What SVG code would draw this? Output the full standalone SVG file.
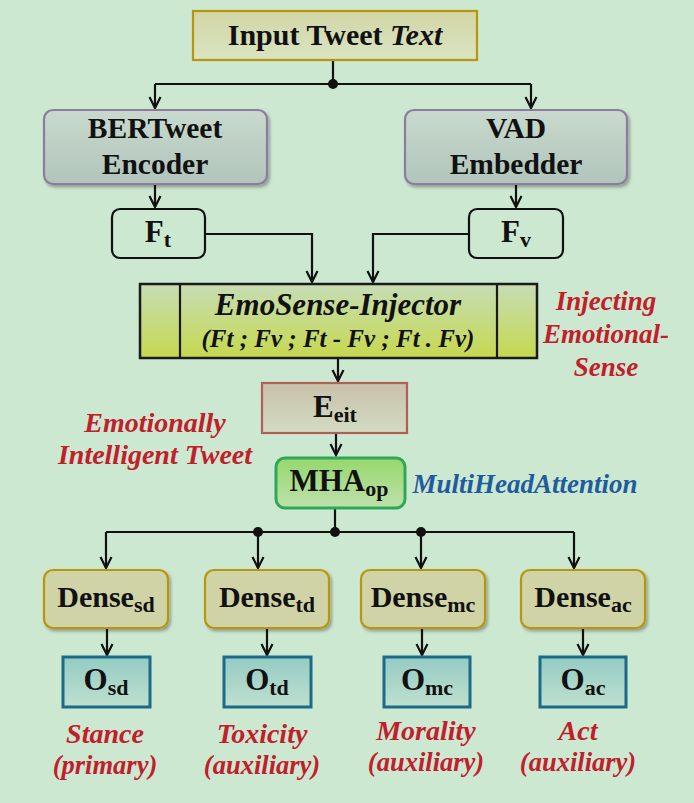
<svg xmlns="http://www.w3.org/2000/svg" width="694" height="803" viewBox="0 0 694 803">
<defs>
<style>
text{font-family:"Liberation Serif","Times New Roman",serif;font-weight:bold;fill:#111;text-anchor:middle}
.it{font-style:italic}
.red{fill:#c0202c;font-style:italic}
.blue{fill:#1f5c9e;font-style:italic}
.conn{stroke:#111;stroke-width:2.2;fill:none}
</style>
<linearGradient id="gIn" x1="0" y1="0" x2="0" y2="1"><stop offset="0" stop-color="#d2d6a6"/><stop offset="1" stop-color="#d9e4c2"/></linearGradient>
<linearGradient id="gEnc" x1="0" y1="0" x2="0" y2="1"><stop offset="0" stop-color="#c9d9cd"/><stop offset="1" stop-color="#b1c5bb"/></linearGradient>
<linearGradient id="gEmo" x1="0" y1="0" x2="0" y2="1"><stop offset="0" stop-color="#c6ddb6"/><stop offset="1" stop-color="#c6d84e"/></linearGradient>
<linearGradient id="gE" x1="0" y1="0" x2="0" y2="1"><stop offset="0" stop-color="#c8c0aa"/><stop offset="1" stop-color="#d3dcc3"/></linearGradient>
<linearGradient id="gMHA" x1="0" y1="0" x2="0" y2="1"><stop offset="0" stop-color="#96d86c"/><stop offset="1" stop-color="#bfe0ac"/></linearGradient>
<linearGradient id="gO" x1="0" y1="0" x2="0" y2="1"><stop offset="0" stop-color="#94cbc3"/><stop offset="1" stop-color="#bfe0cf"/></linearGradient>
<filter id="sh" x="-10%" y="-10%" width="130%" height="140%"><feDropShadow dx="2" dy="2.5" stdDeviation="1.5" flood-color="#000" flood-opacity="0.3"/></filter>
<marker id="arr" viewBox="-12 -7 14 14" refX="0" refY="0" markerWidth="14" markerHeight="14" orient="auto" markerUnits="userSpaceOnUse">
<path d="M-11,-5.5 L0,0 L-11,5.5" fill="none" stroke="#111" stroke-width="2.2" stroke-linejoin="miter"/>
</marker>
</defs>
<rect x="0" y="0" width="694" height="803" fill="#cde8d0"/>

<g id="connectors">
<path class="conn" d="M333,60 V84"/>
<path class="conn" d="M155,84 H531"/>
<path class="conn" d="M155,84 V108" marker-end="url(#arr)"/>
<path class="conn" d="M531,84 V108" marker-end="url(#arr)"/>
<circle cx="333" cy="84" r="5" fill="#111"/>
<path class="conn" d="M155,185 V207" marker-end="url(#arr)"/>
<path class="conn" d="M516,185 V207" marker-end="url(#arr)"/>
<path class="conn" d="M205,234 H312 V282" marker-end="url(#arr)"/>
<path class="conn" d="M469,234 H373 V282" marker-end="url(#arr)"/>
<path class="conn" d="M338,359 V381" marker-end="url(#arr)"/>
<path class="conn" d="M336,433 V455" marker-end="url(#arr)"/>
<path class="conn" d="M335,508 V532"/>
<path class="conn" d="M106,532 H574"/>
<circle cx="258" cy="532" r="5" fill="#111"/>
<circle cx="335" cy="532" r="5" fill="#111"/>
<circle cx="421" cy="532" r="5" fill="#111"/>
<path class="conn" d="M106,532 V568" marker-end="url(#arr)"/>
<path class="conn" d="M258,532 V568" marker-end="url(#arr)"/>
<path class="conn" d="M421,532 V568" marker-end="url(#arr)"/>
<path class="conn" d="M574,532 V568" marker-end="url(#arr)"/>
<path class="conn" d="M107,628 V655" marker-end="url(#arr)"/>
<path class="conn" d="M267,628 V655" marker-end="url(#arr)"/>
<path class="conn" d="M422,628 V655" marker-end="url(#arr)"/>
<path class="conn" d="M583,628 V655" marker-end="url(#arr)"/>
</g>

<g id="input">
<rect x="193" y="11" width="284" height="49" fill="url(#gIn)" stroke="#b8960c" stroke-width="2.2"/>
<text x="335" y="45" font-size="30">Input Tweet <tspan class="it">Text</tspan></text>
</g>

<g id="bertweet">
<rect x="44" y="110" width="223" height="74" rx="9" fill="url(#gEnc)" stroke="#8e7ca0" stroke-width="2.2" filter="url(#sh)"/>
<text x="155" y="138" font-size="29.5">BERTweet</text>
<text x="155" y="174" font-size="29.5">Encoder</text>
</g>

<g id="vad">
<rect x="405" y="110" width="222" height="74" rx="9" fill="url(#gEnc)" stroke="#8e7ca0" stroke-width="2.2" filter="url(#sh)"/>
<text x="516" y="138" font-size="29.5">VAD</text>
<text x="516" y="174" font-size="29.5">Embedder</text>
</g>

<g id="ft">
<rect x="112" y="209" width="93" height="49" rx="8" fill="none" stroke="#111" stroke-width="2.2"/>
<text x="158" y="242" font-size="31">F<tspan font-size="22" dy="5">t</tspan></text>
</g>

<g id="fv">
<rect x="469" y="209" width="94" height="49" rx="8" fill="none" stroke="#111" stroke-width="2.2"/>
<text x="516" y="242" font-size="31">F<tspan font-size="22" dy="5">v</tspan></text>
</g>

<g id="emosense">
<rect x="140" y="284" width="397" height="74" fill="url(#gEmo)" stroke="#1a1a1a" stroke-width="2.5"/>
<path d="M180,284 V358 M497,284 V358" stroke="#1a1a1a" stroke-width="2.2"/>
<text class="it" x="338" y="315" font-size="31">EmoSense-Injector</text>
<text class="it" x="338" y="347" font-size="25">(Ft ; Fv ; Ft - Fv ; Ft . Fv)</text>
</g>

<g id="injecting-label">
<text class="red" x="606" y="310" font-size="27">Injecting</text>
<text class="red" x="606" y="343" font-size="27">Emotional-</text>
<text class="red" x="606" y="376" font-size="27">Sense</text>
</g>

<g id="eeit">
<rect x="262" y="383" width="145" height="50" fill="url(#gE)" stroke="#b06058" stroke-width="2.2"/>
<text x="335" y="417" font-size="31">E<tspan font-size="22" dy="5">eit</tspan></text>
</g>

<g id="eit-label">
<text class="red" x="155" y="432" font-size="28">Emotionally</text>
<text class="red" x="155" y="464" font-size="28">Intelligent Tweet</text>
</g>

<g id="mha">
<rect x="276" y="458" width="129" height="50" rx="9" fill="url(#gMHA)" stroke="#2ea858" stroke-width="3"/>
<text x="339" y="491" font-size="31">MHA<tspan font-size="22" dy="5">op</tspan></text>
</g>

<g id="mha-label">
<text class="blue" x="525" y="493" font-size="27">MultiHeadAttention</text>
</g>

<g id="dense-sd">
<rect x="44" y="570" width="124" height="58" rx="9" fill="#cfd3a6" stroke="#b8960c" stroke-width="2.2" filter="url(#sh)"/>
<text x="106" y="607" font-size="30">Dense<tspan font-size="22" dy="5">sd</tspan></text>
</g>
<g id="dense-td">
<rect x="205" y="570" width="124" height="58" rx="9" fill="#cfd3a6" stroke="#b8960c" stroke-width="2.2" filter="url(#sh)"/>
<text x="267" y="607" font-size="30">Dense<tspan font-size="22" dy="5">td</tspan></text>
</g>
<g id="dense-mc">
<rect x="361" y="570" width="124" height="58" rx="9" fill="#cfd3a6" stroke="#b8960c" stroke-width="2.2" filter="url(#sh)"/>
<text x="423" y="607" font-size="30">Dense<tspan font-size="22" dy="5">mc</tspan></text>
</g>
<g id="dense-ac">
<rect x="521" y="570" width="124" height="58" rx="9" fill="#cfd3a6" stroke="#b8960c" stroke-width="2.2" filter="url(#sh)"/>
<text x="583" y="607" font-size="30">Dense<tspan font-size="22" dy="5">ac</tspan></text>
</g>

<g id="o-sd">
<rect x="63" y="657" width="87" height="50" fill="url(#gO)" stroke="#1a6a88" stroke-width="3"/>
<text x="106" y="690" font-size="31">O<tspan font-size="22" dy="5">sd</tspan></text>
</g>
<g id="o-td">
<rect x="224" y="657" width="87" height="50" fill="url(#gO)" stroke="#1a6a88" stroke-width="3"/>
<text x="267" y="690" font-size="31">O<tspan font-size="22" dy="5">td</tspan></text>
</g>
<g id="o-mc">
<rect x="384" y="657" width="86" height="50" fill="url(#gO)" stroke="#1a6a88" stroke-width="3"/>
<text x="427" y="690" font-size="31">O<tspan font-size="22" dy="5">mc</tspan></text>
</g>
<g id="o-ac">
<rect x="540" y="657" width="86" height="50" fill="url(#gO)" stroke="#1a6a88" stroke-width="3"/>
<text x="583" y="690" font-size="31">O<tspan font-size="22" dy="5">ac</tspan></text>
</g>

<g id="task-labels">
<text class="red" x="105" y="743" font-size="28">Stance</text>
<text class="red" x="105" y="774" font-size="26.5">(primary)</text>
<text class="red" x="262" y="743" font-size="28">Toxicity</text>
<text class="red" x="262" y="774" font-size="26.5">(auxiliary)</text>
<text class="red" x="426" y="740" font-size="28">Morality</text>
<text class="red" x="426" y="771" font-size="26.5">(auxiliary)</text>
<text class="red" x="578" y="740" font-size="28">Act</text>
<text class="red" x="578" y="771" font-size="26.5">(auxiliary)</text>
</g>
</svg>
